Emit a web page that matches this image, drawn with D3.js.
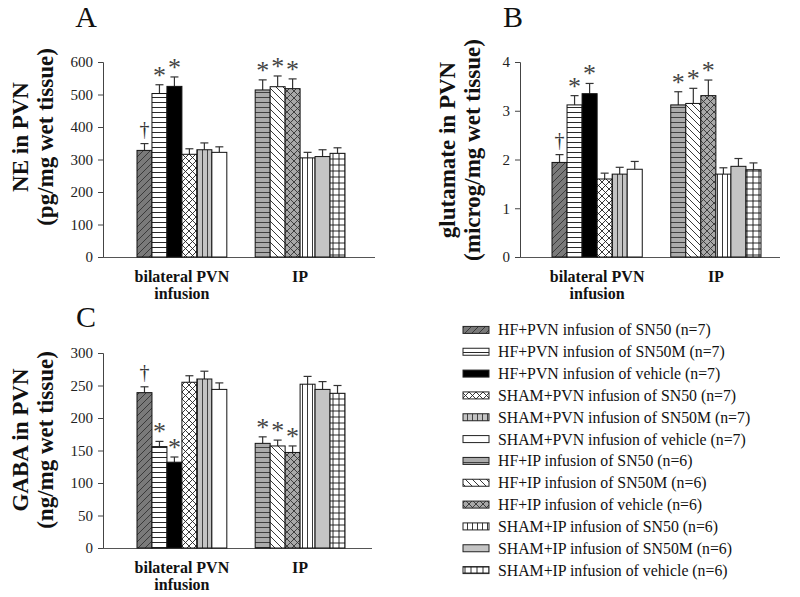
<!DOCTYPE html>
<html>
<head>
<meta charset="utf-8">
<script src="https://cdn.jsdelivr.net/npm/d3@7"></script>
<style>
  html, body { margin: 0; padding: 0; background: #fff; }
  svg { display: block; }
  text { font-family: "Liberation Serif", "Times New Roman", serif; }
</style>
</head>
<body>
<svg id="chart" width="800" height="597"></svg>
<script>
// ---------------- data ----------------
const groups = ["bilateral PVN|infusion", "IP"];
const seriesNames = [
  "HF+PVN infusion of SN50 (n=7)",
  "HF+PVN infusion of SN50M (n=7)",
  "HF+PVN infusion of vehicle (n=7)",
  "SHAM+PVN infusion of SN50 (n=7)",
  "SHAM+PVN infusion of SN50M (n=7)",
  "SHAM+PVN infusion of vehicle (n=7)",
  "HF+IP infusion of SN50 (n=6)",
  "HF+IP infusion of SN50M (n=6)",
  "HF+IP infusion of vehicle (n=6)",
  "SHAM+IP infusion of SN50 (n=6)",
  "SHAM+IP infusion of SN50M (n=6)",
  "SHAM+IP infusion of vehicle (n=6)"
];
const seriesGroup = [0,0,0,0,0,0,1,1,1,1,1,1];
const markers = ["\u2020","*","*","","","","*","*","*","","",""];

const neValues   = [328, 503, 525, 316, 330, 322, 514, 524, 518, 305, 309, 319];
const neErrors   = [21, 27, 29, 17, 21, 17, 31, 33, 30, 17, 21, 17];
const neTicks    = [0, 100, 200, 300, 400, 500, 600];

const gluValues  = [1.94, 3.12, 3.35, 1.60, 1.70, 1.80, 3.12, 3.15, 3.31, 1.70, 1.86, 1.79];
const gluErrors  = [0.16, 0.19, 0.21, 0.12, 0.14, 0.16, 0.27, 0.31, 0.32, 0.13, 0.16, 0.14];
const gluTicks   = [0, 1, 2, 3, 4];

const gabaValues = [239, 156, 132, 255, 260, 244, 161, 157, 147, 252, 244, 238];
const gabaErrors = [9, 8, 8, 10, 12, 10, 10, 9, 10, 12, 12, 12];
const gabaTicks  = [0, 50, 100, 150, 200, 250, 300];

// ---------------- styles / layout ----------------
const patternStyles = [
  {bg:"#7a7a7a", kind:"fwd",   s:7, stroke:"#333"},
  {bg:"#ffffff", kind:"horiz", s:5, stroke:"#111"},
  {bg:"#000000", kind:"none"},
  {bg:"#ffffff", kind:"cross", s:7, stroke:"#222"},
  {bg:"#c4c4c4", kind:"vert",  s:5, stroke:"#333"},
  {bg:"#ffffff", kind:"none"},
  {bg:"#ababab", kind:"horiz", s:5, stroke:"#333"},
  {bg:"#ffffff", kind:"back",  s:7, stroke:"#222"},
  {bg:"#a8a8a8", kind:"cross", s:7, stroke:"#333"},
  {bg:"#ffffff", kind:"vert",  s:5, stroke:"#222"},
  {bg:"#c4c4c4", kind:"none"},
  {bg:"#ffffff", kind:"grid",  s:6, stroke:"#111"}
];

const panels = [
  {letter:"A", values:neValues, errors:neErrors, ticks:neTicks, title:["NE in PVN","(pg/mg wet tissue)"],
   axisX:103, axisEnd:375, yTop:62, yBottom:257, barsStart:137, barsEnd:345,
   letterX:86, letterY:27, titleCY:137, t1X:28, t2X:53},
  {letter:"B", values:gluValues, errors:gluErrors, ticks:gluTicks, title:["glutamate in PVN","(microg/mg wet tissue)"],
   axisX:520, axisEnd:780, yTop:62, yBottom:257, barsStart:552, barsEnd:761,
   letterX:513, letterY:27, titleCY:150, t1X:455, t2X:480},
  {letter:"C", values:gabaValues, errors:gabaErrors, ticks:gabaTicks, title:["GABA in PVN","(ng/mg wet tissue)"],
   axisX:103, axisEnd:372, yTop:353, yBottom:548, barsStart:137, barsEnd:345,
   letterX:86, letterY:327, titleCY:440, t1X:28, t2X:53}
];

const svg = d3.select("#chart");
const defs = svg.append("defs");

patternStyles.forEach((st, i) => {
  const s = st.s || 8;
  const p = defs.append("pattern").attr("id", "pat" + i)
    .attr("patternUnits", "userSpaceOnUse").attr("width", s).attr("height", s);
  p.append("rect").attr("width", s).attr("height", s).attr("fill", st.bg);
  const add = d => p.append("path").attr("d", d).attr("stroke", st.stroke)
    .attr("stroke-width", 0.9).attr("fill", "none");
  if (st.kind === "fwd") add(`M0,${s} L${s},0 M${-s/2},${s/2} L${s/2},${-s/2} M${s/2},${s*1.5} L${s*1.5},${s/2}`);
  if (st.kind === "back") add(`M0,0 L${s},${s} M${-s/2},${s/2} L${s/2},${s*1.5} M${s/2},${-s/2} L${s*1.5},${s/2}`);
  if (st.kind === "cross") {
    add(`M0,${s} L${s},0 M${-s/2},${s/2} L${s/2},${-s/2} M${s/2},${s*1.5} L${s*1.5},${s/2}`);
    add(`M0,0 L${s},${s} M${-s/2},${s/2} L${s/2},${s*1.5} M${s/2},${-s/2} L${s*1.5},${s/2}`);
  }
  if (st.kind === "horiz") add(`M0,${s/2} L${s},${s/2}`);
  if (st.kind === "vert") add(`M${s/2},0 L${s/2},${s}`);
  if (st.kind === "grid") add(`M0,${s/2} L${s},${s/2} M${s/2},0 L${s/2},${s}`);
});

panels.forEach(P => {
  const g = svg.append("g");
  const y = d3.scaleLinear().domain([P.ticks[0], P.ticks[P.ticks.length-1]]).range([P.yBottom, P.yTop]);
  const xg = d3.scaleBand().domain(d3.range(groups.length)).range([P.barsStart, P.barsEnd]).paddingInner(0.24);
  const xs = d3.scaleBand().domain(d3.range(6)).range([0, xg.bandwidth()]);

  // y axis
  const yAxis = d3.axisLeft(y).tickValues(P.ticks).tickSize(5).tickPadding(5).tickFormat(d3.format("d"));
  const ya = g.append("g").attr("transform", `translate(${P.axisX},0)`).call(yAxis);
  ya.select(".domain").attr("stroke", "#444").attr("d", `M-5,${P.yTop+0.5}H0.5V${P.yBottom}`);
  ya.selectAll(".tick line").attr("stroke", "#444");
  ya.selectAll(".tick text").attr("font-size", 15).attr("fill", "#222")
    .attr("font-family", "Liberation Serif, serif");

  // x axis line
  g.append("line").attr("x1", P.axisX).attr("x2", P.axisEnd)
    .attr("y1", P.yBottom + 0.5).attr("y2", P.yBottom + 0.5)
    .attr("stroke", "#555").attr("stroke-width", 1.2);

  // group labels
  groups.forEach((lab, gi) => {
    const cx = xg(gi) + xg.bandwidth() / 2;
    lab.split("|").forEach((line, li) => {
      g.append("text").attr("x", cx).attr("y", P.yBottom + 25 + li * 17)
        .attr("text-anchor", "middle").attr("font-size", 16).attr("font-weight", "bold")
        .attr("fill", "#111").text(line);
    });
  });

  const bx = i => xg(seriesGroup[i]) + xs(i % 6);
  const bw = xs.bandwidth();

  // error bars
  P.values.forEach((v, i) => {
    const cx = bx(i) + bw / 2;
    const top = y(v + P.errors[i]);
    g.append("line").attr("x1", cx).attr("x2", cx).attr("y1", y(v)).attr("y2", top)
      .attr("stroke", "#333").attr("stroke-width", 1.2);
    g.append("line").attr("x1", cx - 4).attr("x2", cx + 4).attr("y1", top).attr("y2", top)
      .attr("stroke", "#333").attr("stroke-width", 1.2);
    if (markers[i] === "*") {
      g.append("text").attr("x", cx).attr("y", top - 1).attr("text-anchor", "middle")
        .attr("font-size", 26).attr("fill", "#444").text("*");
    } else if (markers[i]) {
      g.append("text").attr("x", cx).attr("y", top - 8).attr("text-anchor", "middle")
        .attr("font-size", 20).attr("fill", "#333").text(markers[i]);
    }
  });

  // bars
  g.selectAll("rect.bar").data(P.values).join("rect").attr("class", "bar")
    .attr("x", (d, i) => bx(i)).attr("width", bw)
    .attr("y", d => y(d)).attr("height", d => y(0) - y(d))
    .attr("fill", (d, i) => `url(#pat${i})`)
    .attr("stroke", "#111").attr("stroke-width", 1);

  // panel letter
  g.append("text").attr("x", P.letterX).attr("y", P.letterY).attr("text-anchor", "middle")
    .attr("font-size", 30).attr("fill", "#111").text(P.letter);

  // y titles
  [P.t1X, P.t2X].forEach((tx, li) => {
    g.append("text").attr("transform", `translate(${tx},${P.titleCY}) rotate(-90)`)
      .attr("text-anchor", "middle").attr("font-size", 23).attr("font-weight", "bold")
      .attr("fill", "#111").text(P.title[li]);
  });
});

// legend
const legend = svg.append("g");
const ly = d3.scaleBand().domain(d3.range(seriesNames.length)).range([319, 581]);
seriesNames.forEach((name, i) => {
  const cy = ly(i) + ly.bandwidth() / 2;
  legend.append("rect").attr("x", 463).attr("y", cy - 3.5).attr("width", 26).attr("height", 7)
    .attr("fill", `url(#pat${i})`).attr("stroke", "#222").attr("stroke-width", 1);
  legend.append("text").attr("x", 498).attr("y", cy + 5.5).attr("font-size", 15.8)
    .attr("fill", "#111").text(name);
});
</script>
</body>
</html>
